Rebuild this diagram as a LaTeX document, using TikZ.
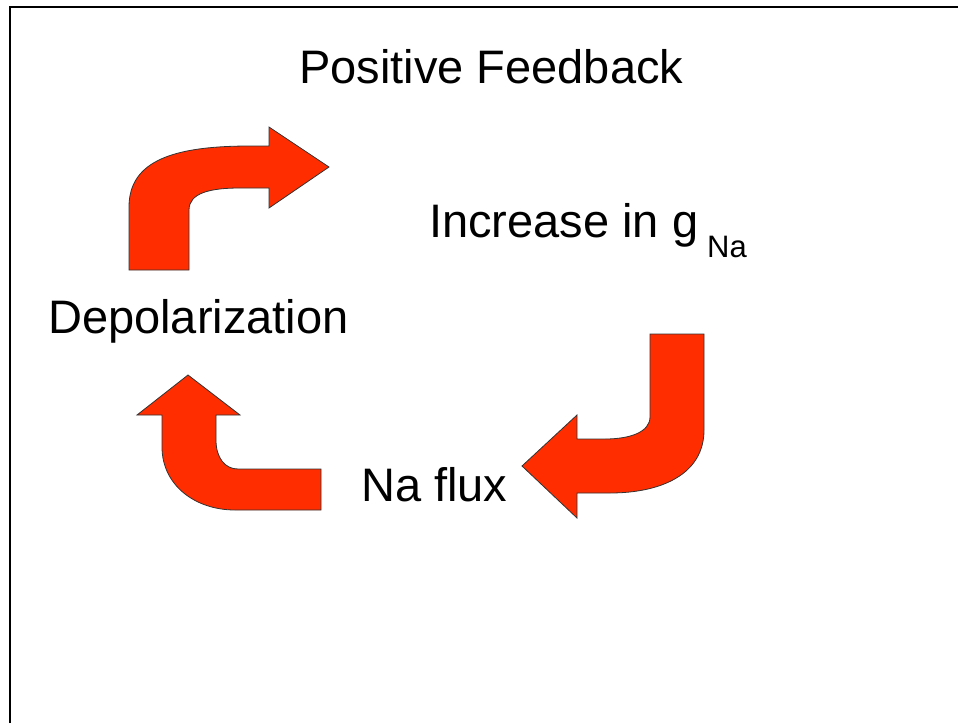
\documentclass[tikz,border=0pt]{standalone}
\usepackage{fontspec}
\setmainfont{Liberation Sans}
\definecolor{arrowred}{HTML}{FF2D00}
\tikzset{
  bentarrow/.style={fill=arrowred, draw=black!80, line width=0.8pt, line join=miter},
  label/.style={inner sep=0pt, anchor=base west, font=\fontsize{47}{56}\selectfont},
  sublabel/.style={inner sep=0pt, anchor=base west, font=\fontsize{31}{36}\selectfont}
}
\begin{document}
\begin{tikzpicture}[x=1pt,y=-1pt]
\useasboundingbox (0,0) rectangle (958,723);
% frame
\draw[line width=2pt, black] (10,723) -- (10,7) -- (958,7);
% title and labels
\node[label] (title) at (299,83) {Positive Feedback};
\node[label] (gna) at (429,237) {Increase in g};
\node[sublabel] (na) at (707,257) {Na};
\node[label] (depol) at (48,333) {Depolarization};
\node[label] (flux) at (361,501) {Na flux};
% arrow 1: up then right
\draw[bentarrow] (129,270) -- (129,207) .. controls (129,160) and (175,146) .. (250,146)
  -- (269,146) -- (269,127) -- (329,167) -- (269,208) -- (269,188) -- (240,188)
  .. controls (210,188) and (189,193) .. (189,210) -- (189,270) -- cycle;
% arrow 2: down then left
\draw[bentarrow] (650,334) -- (704,334) -- (704,430) .. controls (704,475) and (660,493) .. (610,493)
  -- (577,493) -- (577,518) -- (522,466) -- (577,415) -- (577,439) -- (605,439)
  .. controls (630,439) and (650,432) .. (650,417) -- cycle;
% arrow 3: left then up
\draw[bentarrow] (188,375) -- (240,415) -- (216,415) -- (216,440) .. controls (216,458) and (225,469) .. (238,469)
  -- (321,469) -- (321,510) -- (235,510) .. controls (195,510) and (162,485) .. (162,447)
  -- (162,415) -- (137,415) -- cycle;
\end{tikzpicture}
\end{document}
